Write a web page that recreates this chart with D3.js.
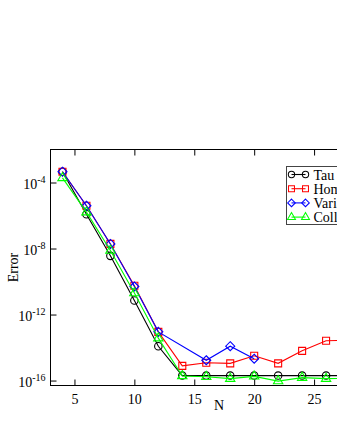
<!DOCTYPE html>
<html>
<head>
<meta charset="utf-8">
<script src="https://cdn.jsdelivr.net/npm/d3@7"></script>
<style>
  body { margin: 0; background: #fff; overflow: hidden; }
  text { font-family: "Liberation Serif", "Times New Roman", serif; fill: #000; }
</style>
</head>
<body>
<div id="chart"></div>
<script>
// Data
const seriesNames = ["Tau", "Homotopy", "Variational", "Collocation"];
const nTau = [4, 6, 8, 10, 12, 14, 16, 18, 20, 22, 24, 26, 28];
const errTau = [4.5e-4, 1.2e-6, 3.6e-9, 7.1e-12, 1.2e-14, 2.0e-16, 2.0e-16, 2.0e-16, 2.0e-16, 2.0e-16, 2.0e-16, 2.0e-16, 2.0e-16];
const nHom = [4, 6, 8, 10, 12, 14, 16, 18, 20, 22, 24, 26, 28];
const errHom = [4.5e-4, 3.9e-6, 1.9e-8, 5.6e-11, 8.9e-14, 7.8e-16, 1.2e-15, 1.1e-15, 3.2e-15, 1.1e-15, 6.3e-15, 2.6e-14, 2.7e-14];
const nVar = [4, 6, 8, 10, 12, 16, 18, 20];
const errVar = [4.5e-4, 3.9e-6, 1.9e-8, 5.0e-11, 8.9e-14, 1.7e-15, 1.2e-14, 2.1e-15];
const nCol = [4, 6, 8, 10, 12, 14, 16, 18, 20, 22, 24, 26, 28];
const errCol = [1.9e-4, 1.6e-6, 7.6e-9, 2.0e-11, 3.7e-14, 1.9e-16, 1.7e-16, 1.3e-16, 1.8e-16, 9.3e-17, 1.5e-16, 1.3e-16, 1.4e-16];
const xTicks = [5, 10, 15, 20, 25];
const yTickExp = [-4, -8, -12, -16];

const W = 337, H = 436;
const margin = {top: 149.5, left: 50.5, bottom: 385.5, right: 374};

const svg = d3.select("#chart").append("svg")
    .attr("width", W)
    .attr("height", H);

const x = d3.scaleLinear().domain([3, 30]).range([margin.left, margin.right]);
const y = d3.scaleLog().domain([Math.pow(10, -16.3), 1e-2]).range([margin.bottom, margin.top]);

// frame
svg.append("rect")
    .attr("x", margin.left).attr("y", margin.top)
    .attr("width", margin.right - margin.left)
    .attr("height", margin.bottom - margin.top)
    .attr("fill", "none").attr("stroke", "#000").attr("stroke-width", 1);

// bottom and top ticks (inside)
const xb = svg.append("g").attr("transform", `translate(0,${margin.bottom})`)
    .call(d3.axisBottom(x).tickValues(xTicks).tickSizeInner(-6).tickSizeOuter(0).tickPadding(9));
xb.select(".domain").remove();
xb.selectAll("text").style("font-size", "14px").attr("dy", "0.71em");
svg.append("g").attr("transform", `translate(0,${margin.top})`)
    .call(d3.axisTop(x).tickValues(xTicks).tickSizeInner(-6).tickSizeOuter(0).tickFormat(""))
    .call(g => g.select(".domain").remove());

// left ticks with 10^n labels
const yl = svg.append("g").attr("transform", `translate(${margin.left},0)`)
    .call(d3.axisLeft(y).tickValues(yTickExp.map(e => Math.pow(10, e))).tickSizeInner(-6).tickSizeOuter(0).tickFormat(""));
yl.select(".domain").remove();
yTickExp.forEach(e => {
    const t = svg.append("text")
        .attr("x", margin.left - 5)
        .attr("y", y(Math.pow(10, e)) + 6)
        .attr("text-anchor", "end")
        .style("font-size", "14px");
    t.append("tspan").text("10");
    t.append("tspan").attr("dy", -6).style("font-size", "10px").text(e);
});

svg.selectAll(".tick line").attr("stroke", "#000");

// axis titles
svg.append("text")
    .attr("transform", `translate(18,${(margin.top + margin.bottom) / 2}) rotate(-90)`)
    .attr("text-anchor", "middle")
    .style("font-size", "14px")
    .text("Error");
svg.append("text")
    .attr("x", 219).attr("y", 410)
    .attr("text-anchor", "middle")
    .style("font-size", "14px")
    .text("N");

// series
const series = [
    {name: seriesNames[0], n: nTau, e: errTau, color: "#000000", marker: "circle"},
    {name: seriesNames[1], n: nHom, e: errHom, color: "#ff0000", marker: "square"},
    {name: seriesNames[2], n: nVar, e: errVar, color: "#0000ff", marker: "diamond"},
    {name: seriesNames[3], n: nCol, e: errCol, color: "#00ff00", marker: "triangle"}
];

const symbols = {
    circle: () => d3.symbol().type(d3.symbolCircle).size(44)(),
    square: () => d3.symbol().type(d3.symbolSquare).size(49)(),
    diamond: () => "M0,-4.5L4.5,0L0,4.5L-4.5,0Z",
    triangle: () => d3.symbol().type(d3.symbolTriangle).size(38)()
};

const line = d3.line().x(d => x(d[0])).y(d => y(d[1]));

const plot = svg.append("g");
series.forEach(s => {
    const pts = s.n.map((n, i) => [n, s.e[i]]);
    plot.append("path")
        .datum(pts)
        .attr("fill", "none")
        .attr("stroke", s.color)
        .attr("stroke-width", 1.1)
        .attr("d", line);
    plot.selectAll(null)
        .data(pts)
        .enter()
        .append("path")
        .attr("transform", d => `translate(${x(d[0])},${y(d[1])})`)
        .attr("d", symbols[s.marker]())
        .attr("fill", "none")
        .attr("stroke", s.color)
        .attr("stroke-width", 1.1);
});

// legend
const lg = svg.append("g").attr("transform", "translate(286.5,166.5)");
lg.append("rect")
    .attr("width", 120).attr("height", 58)
    .attr("fill", "#fff").attr("stroke", "#444").attr("stroke-width", 1);
series.forEach((s, i) => {
    const ly = 8 + i * 14.2;
    lg.append("line")
        .attr("x1", 5).attr("x2", 19).attr("y1", ly).attr("y2", ly)
        .attr("stroke", s.color).attr("stroke-width", 1.1);
    [5, 19].forEach(mx => {
        lg.append("path")
            .attr("transform", `translate(${mx},${ly}) scale(0.85)`)
            .attr("d", symbols[s.marker]())
            .attr("fill", "none")
            .attr("stroke", s.color)
            .attr("stroke-width", 1.2);
    });
    lg.append("text")
        .attr("x", 27).attr("y", ly + 5)
        .style("font-size", "14px")
        .text(s.name);
});
</script>
</body>
</html>
